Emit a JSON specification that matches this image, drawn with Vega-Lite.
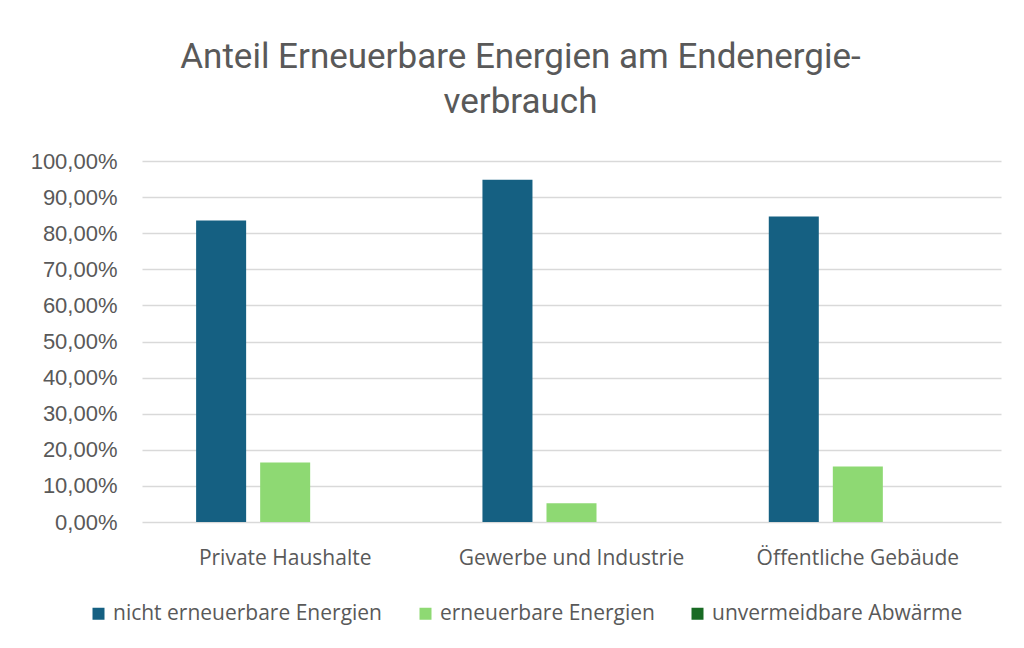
{
  "$schema": "https://vega.github.io/schema/vega-lite/v6.json",
  "width": 859,
  "height": 361,
  "autosize": {"type": "none"},
  "padding": {"left": 142, "top": 161, "right": 23, "bottom": 126},
  "background": "white",
  "title": {
    "text": ["Anteil Erneuerbare Energien am Endenergie-", "verbrauch"],
    "font": "Roboto",
    "fontSize": 35,
    "fontWeight": "normal",
    "color": "#595959",
    "lineHeight": 45,
    "anchor": "middle",
    "dx": -51,
    "offset": 30
  },
  "data": {
    "values": [
      {"Bereich": "Private Haushalte", "Art": "nicht erneuerbare Energien", "Anteil": 0.835},
      {"Bereich": "Private Haushalte", "Art": "erneuerbare Energien", "Anteil": 0.165},
      {"Bereich": "Private Haushalte", "Art": "unvermeidbare Abwärme", "Anteil": 0},
      {"Bereich": "Gewerbe und Industrie", "Art": "nicht erneuerbare Energien", "Anteil": 0.948},
      {"Bereich": "Gewerbe und Industrie", "Art": "erneuerbare Energien", "Anteil": 0.052},
      {"Bereich": "Gewerbe und Industrie", "Art": "unvermeidbare Abwärme", "Anteil": 0},
      {"Bereich": "Öffentliche Gebäude", "Art": "nicht erneuerbare Energien", "Anteil": 0.846},
      {"Bereich": "Öffentliche Gebäude", "Art": "erneuerbare Energien", "Anteil": 0.154},
      {"Bereich": "Öffentliche Gebäude", "Art": "unvermeidbare Abwärme", "Anteil": 0}
    ]
  },
  "mark": {"type": "bar"},
  "encoding": {
    "x": {
      "field": "Bereich",
      "type": "nominal",
      "sort": ["Private Haushalte", "Gewerbe und Industrie", "Öffentliche Gebäude"],
      "scale": {"paddingInner": 0.378, "paddingOuter": 0.189},
      "axis": {
        "title": null,
        "labelAngle": 0,
        "labelFont": "Open Sans",
        "labelFontSize": 21,
        "labelColor": "#595959",
        "labelPadding": 25,
        "labelBaseline": "top",
        "labelLimit": 400,
        "domain": false,
        "ticks": false,
        "tickSize": 0
      }
    },
    "xOffset": {
      "field": "Art",
      "type": "nominal",
      "sort": ["nicht erneuerbare Energien", "erneuerbare Energien", "unvermeidbare Abwärme"],
      "scale": {"paddingInner": 0.219, "paddingOuter": 0}
    },
    "y": {
      "field": "Anteil",
      "type": "quantitative",
      "scale": {"domain": [0, 1]},
      "axis": {
        "title": null,
        "values": [0, 0.1, 0.2, 0.3, 0.4, 0.5, 0.6, 0.7, 0.8, 0.9, 1],
        "labelExpr": "replace(format(datum.value, '.2%'), '.', ',')",
        "labelFont": "Liberation Sans",
        "labelFontSize": 22,
        "labelColor": "#595959",
        "labelPadding": 25,
        "domain": false,
        "ticks": false,
        "tickSize": 0,
        "grid": true,
        "gridColor": "#D9D9D9",
        "gridWidth": 1.4
      }
    },
    "color": {
      "field": "Art",
      "type": "nominal",
      "sort": ["nicht erneuerbare Energien", "erneuerbare Energien", "unvermeidbare Abwärme"],
      "scale": {
        "domain": ["nicht erneuerbare Energien", "erneuerbare Energien", "unvermeidbare Abwärme"],
        "range": ["#156082", "#8ED973", "#196B24"]
      },
      "legend": {
        "title": null,
        "orient": "none",
        "legendX": -54,
        "legendY": 442,
        "direction": "horizontal",
        "symbolType": "square",
        "symbolSize": 144,
        "symbolStrokeWidth": 0,
        "labelFont": "Open Sans",
        "labelFontSize": 21,
        "labelColor": "#595959",
        "labelOffset": 4,
        "labelLimit": 400,
        "columnPadding": 32,
        "padding": 0
      }
    }
  },
  "config": {"view": {"stroke": null}}
}
